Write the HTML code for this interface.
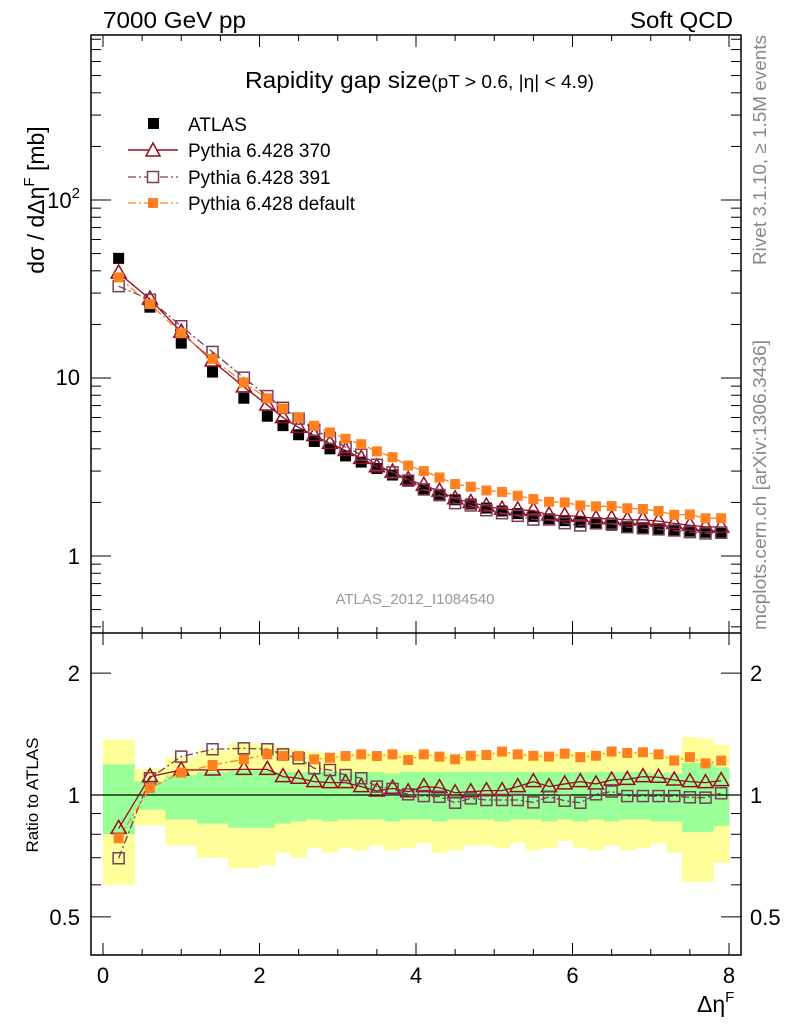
<!DOCTYPE html>
<html><head><meta charset="utf-8"><style>
html,body{margin:0;padding:0;background:#fff;}
svg{display:block;font-family:"Liberation Sans",sans-serif;}
</style></head><body>
<svg id="c" width="786" height="1024" viewBox="0 0 786 1024" xmlns="http://www.w3.org/2000/svg">
<g id="bands"></g>
<g id="marks"></g>
<g id="axes"></g>
<text x="103" y="28" font-size="23" textLength="143" lengthAdjust="spacingAndGlyphs">7000 GeV pp</text>
<text x="733" y="28" font-size="23" text-anchor="end" textLength="103" lengthAdjust="spacingAndGlyphs">Soft QCD</text>
<text x="245" y="88" font-size="23" textLength="349" lengthAdjust="spacingAndGlyphs">Rapidity gap size<tspan font-size="18">(pT &gt; 0.6, |η| &lt; 4.9)</tspan></text>
<text x="415" y="604" font-size="15" fill="#999" text-anchor="middle">ATLAS_2012_I1084540</text>
<text transform="translate(766,150) rotate(-90)" font-size="18" fill="#888" text-anchor="middle" textLength="230" lengthAdjust="spacingAndGlyphs">Rivet 3.1.10, ≥ 1.5M events</text>
<text transform="translate(766,485) rotate(-90)" font-size="18" fill="#888" text-anchor="middle" textLength="290" lengthAdjust="spacingAndGlyphs">mcplots.cern.ch [arXiv:1306.3436]</text>
<text transform="translate(44,200) rotate(-90)" font-size="23" text-anchor="middle">dσ / dΔη<tspan font-size="15" dy="-10">F</tspan><tspan dy="10"> [mb]</tspan></text>
<text transform="translate(38,795) rotate(-90)" font-size="17" text-anchor="middle">Ratio to ATLAS</text>
<text x="697" y="1012" font-size="23">Δη<tspan font-size="15" dy="-10">F</tspan></text>
<g id="legend">
<rect x="148" y="118" width="11" height="11" fill="#000"/>
<text x="188" y="131" font-size="19">ATLAS</text>
<line x1="128" y1="150" x2="178" y2="150" stroke="#9b0a1e" stroke-width="1.5"/>
<polygon points="153,143 146,156 160,156" fill="#fff" stroke="#9b0a1e" stroke-width="1.5"/>
<text x="188" y="157" font-size="19">Pythia 6.428 370</text>
<line x1="128" y1="177" x2="178" y2="177" stroke="#7a3c5a" stroke-width="1.2" stroke-dasharray="8,3,2,3"/>
<rect x="147.5" y="171.5" width="11" height="11" fill="#fff" stroke="#7a3c5a" stroke-width="1.5"/>
<text x="188" y="184" font-size="19">Pythia 6.428 391</text>
<line x1="128" y1="203" x2="178" y2="203" stroke="#ff8020" stroke-width="1.2" stroke-dasharray="8,3,2,3"/>
<rect x="148" y="198" width="10" height="10" fill="#ff8020"/>
<text x="188" y="210" font-size="19" textLength="167" lengthAdjust="spacingAndGlyphs">Pythia 6.428 default</text>
</g>
</svg>
<script>
const binEdges=[0,0.4,0.8,1.2,1.6,2.0,2.2,2.4,2.6,2.8,3.0,3.2,3.4,3.6,3.8,4.0,4.2,4.4,4.6,4.8,5.0,5.2,5.4,5.6,5.8,6.0,6.2,6.4,6.6,6.8,7.0,7.2,7.4,7.6,7.8,8.0];
const xCenters=[0.2,0.6,1.0,1.4,1.8,2.1,2.3,2.5,2.7,2.9,3.1,3.3,3.5,3.7,3.9,4.1,4.3,4.5,4.7,4.9,5.1,5.3,5.5,5.7,5.9,6.1,6.3,6.5,6.7,6.9,7.1,7.3,7.5,7.7,7.9];
const atlas=[47,25,15.7,10.8,7.7,6.1,5.4,4.8,4.4,4.0,3.65,3.37,3.1,2.85,2.64,2.38,2.22,2.07,1.96,1.86,1.79,1.73,1.67,1.62,1.58,1.55,1.52,1.49,1.46,1.44,1.42,1.40,1.38,1.36,1.34];
const ratio370=[0.827,1.11,1.153,1.153,1.157,1.157,1.11,1.10,1.079,1.073,1.073,1.049,1.023,1.039,1.019,1.049,1.043,1.013,1.019,1.025,1.025,1.049,1.079,1.049,1.065,1.079,1.065,1.089,1.093,1.11,1.106,1.089,1.079,1.073,1.085];
const ratio391=[0.698,1.10,1.244,1.297,1.304,1.297,1.26,1.232,1.164,1.153,1.12,1.10,1.049,1.035,1.004,0.994,0.99,0.957,0.981,0.972,0.972,0.972,0.959,0.99,0.968,0.957,1.004,1.02,0.994,0.994,0.994,0.994,0.987,0.985,1.01];
const ratioDef=[0.782,1.04,1.136,1.186,1.225,1.26,1.248,1.248,1.225,1.236,1.248,1.26,1.248,1.26,1.22,1.26,1.244,1.225,1.25,1.255,1.28,1.26,1.25,1.244,1.265,1.24,1.25,1.28,1.27,1.275,1.26,1.216,1.24,1.197,1.216];
const yellowHi=[1.37,1.16,1.24,1.29,1.34,1.34,1.31,1.29,1.28,1.27,1.27,1.28,1.27,1.27,1.28,1.27,1.27,1.26,1.27,1.27,1.28,1.27,1.27,1.27,1.27,1.28,1.28,1.27,1.27,1.27,1.26,1.26,1.39,1.38,1.33];
const yellowLo=[0.60,0.84,0.75,0.70,0.66,0.67,0.72,0.70,0.74,0.72,0.74,0.73,0.75,0.73,0.74,0.76,0.72,0.73,0.75,0.75,0.74,0.76,0.73,0.74,0.77,0.74,0.73,0.75,0.73,0.74,0.76,0.72,0.61,0.61,0.68];
const greenHi=[1.19,1.08,1.12,1.14,1.15,1.15,1.14,1.14,1.14,1.14,1.14,1.14,1.14,1.13,1.14,1.14,1.14,1.14,1.14,1.14,1.14,1.14,1.14,1.14,1.14,1.14,1.14,1.14,1.14,1.14,1.13,1.13,1.20,1.20,1.17];
const greenLo=[0.80,0.92,0.87,0.85,0.83,0.83,0.85,0.86,0.87,0.86,0.87,0.87,0.87,0.86,0.87,0.87,0.86,0.87,0.87,0.87,0.86,0.87,0.87,0.86,0.87,0.86,0.87,0.86,0.87,0.87,0.86,0.86,0.81,0.81,0.84];
const xTicks=[0,2,4,6,8];

const NS="http://www.w3.org/2000/svg";
const X0=91,X1=741,MT=35,MB=633,RB=955;
const xs=v=>103+v*78.25;
const ym=v=>556-178*Math.log10(v);
const yr=v=>795-405*Math.log10(v);
function mk(tag,attrs,parent){const e=document.createElementNS(NS,tag);for(const k in attrs)e.setAttribute(k,attrs[k]);document.getElementById(parent).appendChild(e);return e;}

for(let i=0;i<xCenters.length;i++){
  const xa=xs(binEdges[i]),xb=xs(binEdges[i+1]);
  let e=mk('rect',{x:xa,y:yr(yellowHi[i]),width:xb-xa+0.5,height:yr(yellowLo[i])-yr(yellowHi[i]),fill:'#ffff99'},'bands');
  
  
  e=mk('rect',{x:xa,y:yr(greenHi[i]),width:xb-xa+0.5,height:yr(greenLo[i])-yr(greenHi[i]),fill:'#99ff99'},'bands');
  
  
}
let ref=mk('line',{x1:X0,x2:X1,y1:yr(1),y2:yr(1),stroke:'#000','stroke-width':1.2},'marks');



const series=[
 {r:ratio370,c:'#9b0a1e',dash:'',m:'tri',name:'pythia-370'},
 {r:ratio391,c:'#7a3c5a',dash:'8,3,2,3',m:'osq',name:'pythia-391'},
 {r:ratioDef,c:'#ff8020',dash:'8,3,2,3',m:'fsq',name:'pythia-default'}];
function marker(m,c,x,y,nm){
  let e;
  if(m==='tri')e=mk('polygon',{points:`${x},${y-8} ${x-7.5},${y+5} ${x+7.5},${y+5}`,fill:'none',stroke:c,'stroke-width':1.5},'marks');
  else if(m==='osq')e=mk('rect',{x:x-5.5,y:y-5.5,width:11,height:11,fill:'none',stroke:c,'stroke-width':1.5},'marks');
  else e=mk('rect',{x:x-5,y:y-5,width:10,height:10,fill:c},'marks');
  
  
}
atlas.forEach((v,i)=>{const e=mk('rect',{x:xs(xCenters[i])-5.5,y:ym(v)-5.5,width:11,height:11,fill:'#000'},'marks');
  
  });
series.forEach(s=>{
  const pm=xCenters.map((x,i)=>`${xs(x)},${ym(atlas[i]*s.r[i])}`).join(' ');
  const pr=xCenters.map((x,i)=>`${xs(x)},${yr(s.r[i])}`).join(' ');
  let l=mk('polyline',{points:pm,fill:'none',stroke:s.c,'stroke-width':1.3,'stroke-dasharray':s.dash},'marks');
  
  
  l=mk('polyline',{points:pr,fill:'none',stroke:s.c,'stroke-width':1.3,'stroke-dasharray':s.dash},'marks');
  
  
  xCenters.forEach((x,i)=>{marker(s.m,s.c,xs(x),ym(atlas[i]*s.r[i]),s.name+'-point');marker(s.m,s.c,xs(x),yr(s.r[i]),s.name+'-ratio-point');});
});

function ln(x1,y1,x2,y2,w,nm){const e=mk('line',{x1,y1,x2,y2,stroke:'#000','stroke-width':w||1},'axes');}
function tx(x,y,s,anchor,size,nm){const e=mk('text',{x,y,'font-size':size||19,'text-anchor':anchor||'middle'},'axes');e.textContent=s;return e;}
let f=mk('rect',{x:X0,y:MT,width:X1-X0,height:RB-MT,fill:'none',stroke:'#000','stroke-width':1.5},'axes');


ln(X0,MB,X1,MB,1.5,'panel-divider');
for(let v=0;v<=8.0001;v+=0.5){const x=xs(v),maj=Math.abs(v-Math.round(v))<1e-6&&Math.round(v)%2===0;const L=maj?12:6;
  [MT,MB].forEach(y=>ln(x,y,x,y+L));[MB,RB].forEach(y=>ln(x,y,x,y-L));}
xTicks.forEach(v=>tx(xs(v),983,String(v),'middle',22,'x-tick-label'));
for(let d=-1;d<=2;d++)for(let k=1;k<=9;k++){const v=k*Math.pow(10,d),y=ym(v);if(y<MT||y>MB)continue;const L=k===1?20:10;ln(X0,y,X0+L,y);ln(X1,y,X1-L,y);}
let t=tx(80,208,'10','end',22,'y-tick-label');const sp=document.createElementNS(NS,'tspan');sp.setAttribute('font-size','15');sp.setAttribute('dy','-10');sp.textContent='2';t.appendChild(sp);
tx(80,385,'10','end',22,'y-tick-label');tx(80,564,'1','end',22,'y-tick-label');
[0.5,0.6,0.7,0.8,0.9,1,2].forEach(v=>{const y=yr(v);const L=(v===0.5||v===1||v===2)?20:10;ln(X0,y,X0+L,y);ln(X1,y,X1-L,y);});
[[2,'2'],[1,'1'],[0.5,'0.5']].forEach(([v,s])=>{tx(80,yr(v)+8,s,'end',22,'ratio-tick-label');tx(750,yr(v)+8,s,'start',22,'ratio-tick-label-right');});
</script>
</body></html>
